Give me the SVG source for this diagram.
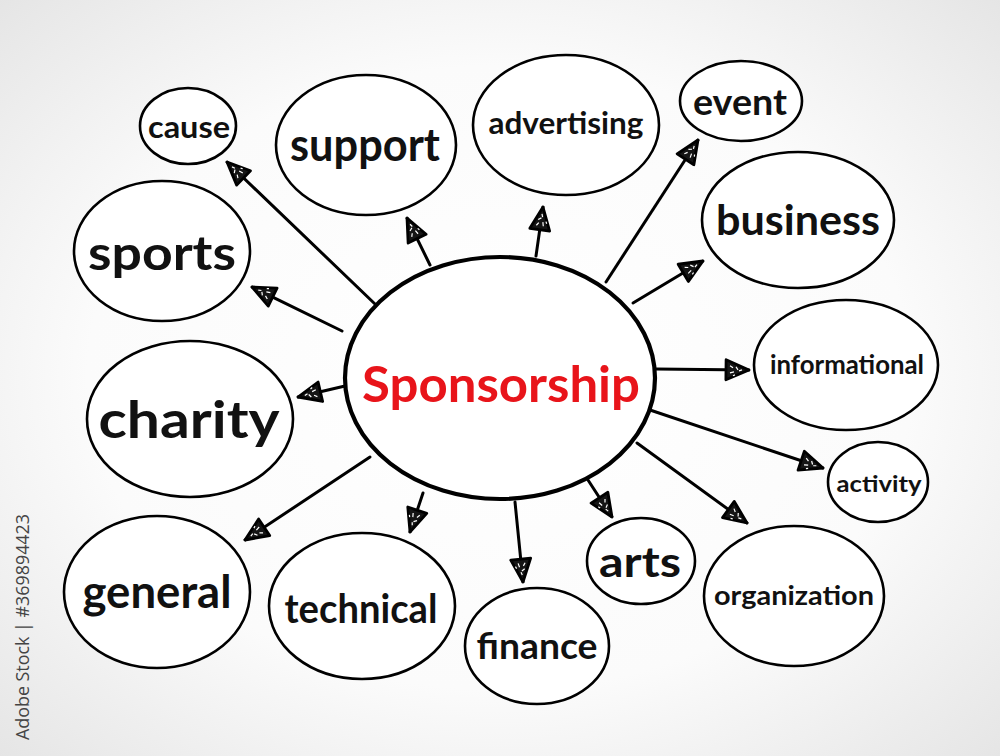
<svg xmlns="http://www.w3.org/2000/svg" width="1000" height="756" viewBox="0 0 1000 756">
<defs>
<radialGradient id="bg" cx="50%" cy="50%" r="75%">
<stop offset="0" stop-color="#ffffff"/>
<stop offset="0.55" stop-color="#fbfbfb"/>
<stop offset="1" stop-color="#e2e2e2"/>
</radialGradient>
<marker id="arr" markerUnits="userSpaceOnUse" viewBox="0 0 26 24" refX="25" refY="12" markerWidth="26" markerHeight="24" orient="auto">
<path d="M2,2 L25,12 L2,22 Z" fill="#151515" stroke="#000" stroke-width="2.8" stroke-linejoin="round"/>
<path d="M6,8 L9,10 M6,15 L10,14 M12,9 L14,12 M15,13 L18,12 M9,18 L11,17" stroke="#fff" stroke-width="1.2" fill="none"/>
</marker>
<style>
.node ellipse{fill:#fff;stroke:#000;stroke-width:2.6}
.lbl{font-family:"Lato","Open Sans","Liberation Sans",sans-serif;font-weight:700;fill:#111;text-anchor:middle;dominant-baseline:central}
.conn line{stroke:#000;stroke-width:3;stroke-linecap:round;marker-end:url(#arr)}
</style>
</defs>
<rect width="1000" height="756" fill="url(#bg)"/>
<g id="connectors" class="conn">
<line x1="375" y1="304" x2="227" y2="162"/>
<line x1="342" y1="331" x2="252" y2="287"/>
<line x1="430" y1="265" x2="407" y2="218"/>
<line x1="536" y1="256" x2="543" y2="207"/>
<line x1="606" y1="282" x2="698" y2="140"/>
<line x1="633" y1="303" x2="703" y2="261"/>
<line x1="656" y1="369" x2="749" y2="370"/>
<line x1="650" y1="410" x2="823" y2="468"/>
<line x1="637" y1="443" x2="747" y2="523"/>
<line x1="588" y1="480" x2="612" y2="517"/>
<line x1="515" y1="502" x2="523" y2="582"/>
<line x1="423" y1="493" x2="410" y2="532"/>
<line x1="370" y1="457" x2="245" y2="540"/>
<line x1="345" y1="386" x2="298" y2="397"/>
</g>
<g id="center" class="node">
<ellipse cx="500" cy="378" rx="155" ry="121" style="stroke-width:4.2"/>
<text class="lbl" x="501" y="383" font-size="50" textLength="278" lengthAdjust="spacingAndGlyphs" style="fill:#e8141a">Sponsorship</text>
</g>
<g id="cause" class="node"><ellipse cx="188" cy="126" rx="48" ry="38"/><text class="lbl" x="189" y="126" font-size="30" textLength="82" lengthAdjust="spacingAndGlyphs">cause</text></g>
<g id="support" class="node"><ellipse cx="366" cy="145" rx="90" ry="70"/><text class="lbl" x="365" y="143" font-size="46" textLength="150" lengthAdjust="spacingAndGlyphs">support</text></g>
<g id="advertising" class="node"><ellipse cx="566" cy="125" rx="93" ry="70"/><text class="lbl" x="566" y="122" font-size="30" textLength="155" lengthAdjust="spacingAndGlyphs">advertising</text></g>
<g id="event" class="node"><ellipse cx="741" cy="101" rx="61" ry="40"/><text class="lbl" x="740" y="101" font-size="36" textLength="94" lengthAdjust="spacingAndGlyphs">event</text></g>
<g id="business" class="node"><ellipse cx="798" cy="220" rx="96" ry="68"/><text class="lbl" x="798" y="219" font-size="42" textLength="164" lengthAdjust="spacingAndGlyphs">business</text></g>
<g id="informational" class="node"><ellipse cx="846" cy="365" rx="92" ry="65"/><text class="lbl" x="847" y="364" font-size="26" textLength="154" lengthAdjust="spacingAndGlyphs">informational</text></g>
<g id="activity" class="node"><ellipse cx="878" cy="482" rx="50" ry="40"/><text class="lbl" x="879" y="483" font-size="23" textLength="85" lengthAdjust="spacingAndGlyphs">activity</text></g>
<g id="organization" class="node"><ellipse cx="794" cy="596" rx="90" ry="70"/><text class="lbl" x="794" y="595" font-size="26" textLength="160" lengthAdjust="spacingAndGlyphs">organization</text></g>
<g id="arts" class="node"><ellipse cx="641" cy="561" rx="54" ry="43"/><text class="lbl" x="640" y="561" font-size="42" textLength="82" lengthAdjust="spacingAndGlyphs">arts</text></g>
<g id="finance" class="node"><ellipse cx="537" cy="646" rx="72" ry="58"/><text class="lbl" x="537" y="645" font-size="36" textLength="121" lengthAdjust="spacingAndGlyphs">finance</text></g>
<g id="technical" class="node"><ellipse cx="362" cy="606" rx="93" ry="73"/><text class="lbl" x="361" y="608" font-size="40" textLength="153" lengthAdjust="spacingAndGlyphs">technical</text></g>
<g id="general" class="node"><ellipse cx="157" cy="592" rx="93" ry="76"/><text class="lbl" x="157" y="590" font-size="46" textLength="149" lengthAdjust="spacingAndGlyphs">general</text></g>
<g id="charity" class="node"><ellipse cx="190" cy="419" rx="103" ry="78"/><text class="lbl" x="189" y="418" font-size="52" textLength="181" lengthAdjust="spacingAndGlyphs">charity</text></g>
<g id="sports" class="node"><ellipse cx="162" cy="251" rx="88" ry="70"/><text class="lbl" x="162" y="251" font-size="48" textLength="148" lengthAdjust="spacingAndGlyphs">sports</text></g>
<text x="0" y="0" transform="translate(29,627) rotate(-90)" font-family="'Open Sans','Liberation Sans',sans-serif" font-size="17.5" fill="#444" text-anchor="middle" textLength="226" lengthAdjust="spacingAndGlyphs">Adobe Stock | #369894423</text>
</svg>
